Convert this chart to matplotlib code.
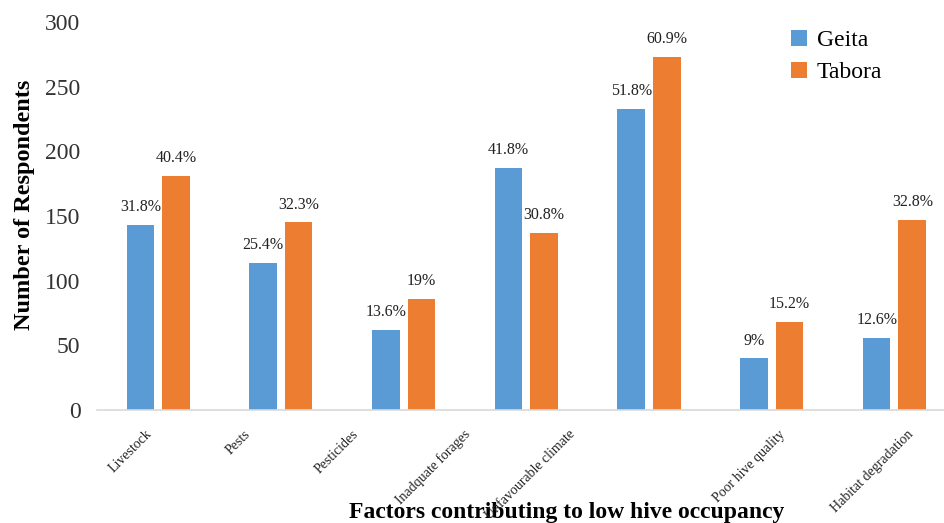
import matplotlib
matplotlib.use("Agg")
import matplotlib.pyplot as plt
import numpy as np

# respondents per factor, by region
factors = ["Livestock", "Pests", "Pesticides", "Inadquate forages",
           "Unfavourable climate", "Poor hive quality", "Habitat degradation"]
geita = [143, 114, 62, 187, 233, 40, 56]
tabora = [181, 145, 86, 137, 273, 68, 147]
geita_pct = ["31.8%", "25.4%", "13.6%", "41.8%", "51.8%", "9%", "12.6%"]
tabora_pct = ["40.4%", "32.3%", "19%", "30.8%", "60.9%", "15.2%", "32.8%"]

# horizontal nudges (points) for the slanted category names
name_shift = [-6, -24, -34, -42, -55, 8, 12]

plt.rcParams['font.family'] = ['Liberation Serif', 'DejaVu Serif']

fig = plt.figure(figsize=(9.44, 5.23), dpi=100)
ax = fig.add_axes([0.1028, 0.216, 0.91, 0.742])

x = np.arange(len(factors))
w = 0.225
b1 = ax.bar(x - 0.147, geita, w, color='#5B9BD5', label='Geita')
b2 = ax.bar(x + 0.143, tabora, w, color='#ED7D31', label='Tabora')

for bars, txt in ((b1, geita_pct), (b2, tabora_pct)):
    for r, t in zip(bars, txt):
        ax.annotate(t, (r.get_x() + r.get_width() / 2, r.get_height()),
                    xytext=(0, 7), textcoords='offset points',
                    ha='center', va='bottom', fontsize=11.5, color='#222222')

ax.set_xlim(-0.5, 6.5)
ax.set_ylim(0, 300)
ax.set_yticks(range(0, 301, 50))
ax.tick_params(axis='y', length=0, pad=12, labelsize=17, labelcolor='#333333')
ax.set_xticks([])

for s in ('top', 'right', 'left'):
    ax.spines[s].set_visible(False)
ax.spines['bottom'].set_color('#D9D9D9')
ax.spines['bottom'].set_linewidth(1.2)

for xi, name, dx in zip(x, factors, name_shift):
    ax.annotate(name, (xi, 0), xycoords=ax.get_xaxis_transform(),
                xytext=(dx, -16), textcoords='offset points',
                rotation=45, ha='right', va='center', rotation_mode='anchor',
                fontsize=10, color='#222222')

ax.set_ylabel("Number of Respondents", fontsize=17.5, fontweight='bold')
ax.yaxis.set_label_coords(-0.072, 0.528)
ax.set_xlabel("Factors contributing to low hive occupancy",
              fontsize=17, fontweight='bold')
ax.xaxis.set_label_coords(0.547, -0.238)

ax.legend(loc='upper left', bbox_to_anchor=(0.783, 1.035), frameon=False,
          fontsize=17, handlelength=0.7, handleheight=0.7,
          handletextpad=0.4, labelspacing=0.45)

fig.savefig("out.png", dpi=100)
